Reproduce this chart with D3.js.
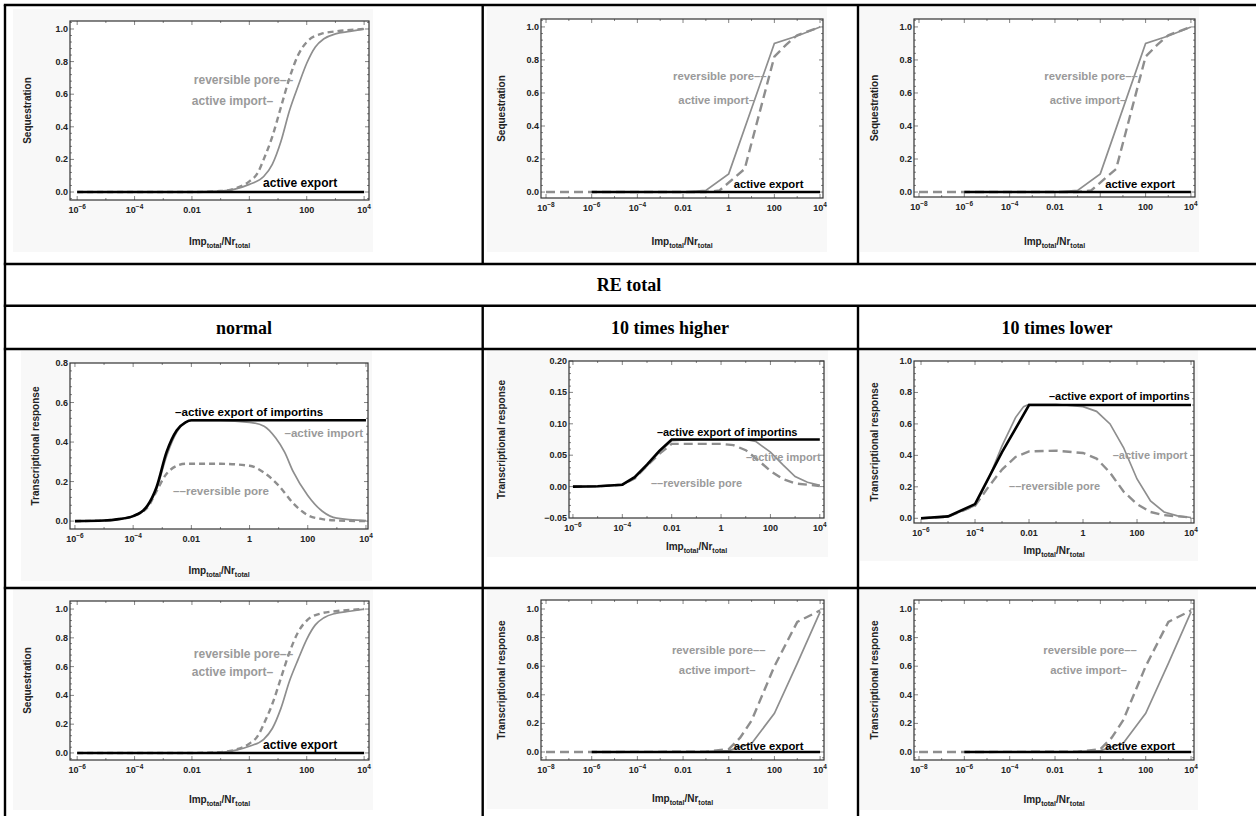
<!DOCTYPE html>
<meta charset="utf-8">
<script src="https://cdnjs.cloudflare.com/ajax/libs/d3/7.8.5/d3.min.js"></script>
<style>
  body { margin: 0; background: #fff; }
  svg text { font-family: "Liberation Sans", Arial, sans-serif; font-weight: bold; }
</style>
<div id="fig"></div>
<script>

// ---------- data : x values are log10(Imp_total/Nr_total) ----------

// sequestration, RE total normal (top-left, bottom-left)
var seqNormalImport = [[-6,0],[-2,0],[-1,0.005],[-0.5,0.018],[0,0.047],[0.5,0.095],[0.8,0.17],[1.1,0.31],[1.4,0.5],[1.7,0.65],[2,0.79],[2.3,0.89],[2.6,0.94],[3,0.97],[3.5,0.985],[4,1.0]];
var seqNormalPore   = [[-6,0],[-2,0],[-1,0.006],[-0.5,0.022],[0,0.065],[0.3,0.12],[0.5,0.2],[0.8,0.34],[1.1,0.52],[1.4,0.7],[1.7,0.84],[2,0.92],[2.5,0.97],[3,0.985],[4,1.0]];
var seqNormalExport = [[-6,0],[4,0]];

// sequestration, 10 times higher / lower (top-middle, top-right)
var seqShiftImport = [[-6,0],[-2,0],[-1,0.01],[0,0.11],[2,0.9],[3,0.945],[4,1.0]];
var seqShiftPore   = [[-8,0],[-6,0],[-1,0],[-0.4,0.01],[0.7,0.14],[2,0.82],[2.5,0.89],[3,0.95],[4,1.0]];
var seqShiftExport = [[-6,0],[4,0]];

// transcriptional response, normal
var trNormalExport = [[-6,0],[-5,0.003],[-4.5,0.01],[-4,0.025],[-3.5,0.08],[-3.2,0.17],[-2.85,0.35],[-2.5,0.46],[-2.2,0.5],[-2,0.51],[4,0.51]];
var trNormalImport = [[-6,0],[-5,0.003],[-4.5,0.01],[-4,0.025],[-3.5,0.075],[-3.2,0.16],[-2.85,0.33],[-2.5,0.45],[-2.2,0.5],[-2,0.508],[-1,0.508],[0,0.5],[0.5,0.48],[0.9,0.42],[1.2,0.35],[1.5,0.25],[2,0.13],[2.5,0.05],[3,0.015],[4,0.003]];
var trNormalPore   = [[-6,0],[-5,0.003],[-4.5,0.01],[-4,0.025],[-3.5,0.07],[-3.2,0.15],[-2.9,0.23],[-2.5,0.28],[-2.2,0.29],[-1,0.29],[0,0.28],[0.5,0.245],[1,0.18],[1.5,0.09],[2,0.03],[2.5,0.01],[3,0.003],[4,0]];

// transcriptional response, 10 times higher
var trHighExport = [[-6,0],[-5,0.0005],[-4,0.003],[-3.5,0.015],[-3,0.035],[-2.5,0.057],[-2,0.075],[4,0.075]];
var trHighImport = [[-6,0],[-5,0.0005],[-4,0.003],[-3.5,0.014],[-3,0.033],[-2.5,0.055],[-2,0.073],[-1,0.075],[1,0.075],[1.4,0.072],[2,0.055],[2.5,0.035],[3,0.016],[3.5,0.007],[4,0.002]];
var trHighPore   = [[-6,0],[-5,0.0005],[-4,0.003],[-3.5,0.013],[-3,0.033],[-2.5,0.052],[-2,0.068],[0,0.068],[0.5,0.066],[1,0.058],[1.5,0.042],[2,0.025],[2.5,0.012],[3,0.005],[4,0.001]];

// transcriptional response, 10 times lower
var trLowExport = [[-6,0],[-5,0.012],[-4,0.09],[-3,0.42],[-2,0.72],[4,0.72]];
var trLowImport = [[-6,0],[-5,0.01],[-4,0.08],[-3.5,0.25],[-3,0.46],[-2.5,0.64],[-2.2,0.71],[-2,0.725],[-1,0.725],[0,0.71],[0.5,0.68],[1,0.6],[1.5,0.45],[2,0.25],[2.5,0.11],[3,0.04],[3.5,0.015],[4,0.005]];
var trLowPore   = [[-6,0],[-5,0.01],[-4,0.08],[-3.5,0.2],[-3,0.31],[-2.5,0.39],[-2,0.425],[-1,0.43],[0,0.415],[0.5,0.38],[1,0.29],[1.5,0.17],[2,0.09],[2.5,0.04],[3,0.02],[4,0.005]];

// transcriptional response, bottom middle / right
var trShiftImport = [[-6,0],[-1,0.002],[0,0.01],[1,0.06],[2,0.27],[3,0.62],[4,0.98]];
var trShiftPore   = [[-8,0],[-6,0],[-1,0.002],[0,0.02],[0.5,0.1],[1,0.22],[2,0.6],[3,0.91],[4,0.99]];
var trShiftExport = [[-6,0],[4,0]];

// ticks
var xTicks6 = [-6,-4,-2,0,2,4];
var xTicks8 = [-8,-6,-4,-2,0,2,4];
var xTickLabels6 = ["10^−6","10^−4","0.01","1","100","10^4"];
var xTickLabels8 = ["10^−8","10^−6","10^−4","0.01","1","100","10^4"];
var yTicksUnit = [0,0.2,0.4,0.6,0.8,1.0];
var yTicksNormal = [0,0.2,0.4,0.6,0.8];
var yTicksHigh = [-0.05,0,0.05,0.1,0.15,0.2];

// table texts
var rowTitle = "RE total";
var colTitles = ["normal", "10 times higher", "10 times lower"];

// curve annotations (text, data x, data y, anchor, black?)
var notesSeqNormal = [["reversible pore––",1.53,0.69,"end",0],["active import–",0.83,0.56,"end",0],["active export",0.48,0.053,"start",1]];
var notesSeqShift  = [["reversible pore––",1.66,0.70,"end",0],["active import–",1.15,0.56,"end",0],["active export",0.22,0.05,"start",1]];
var notesTrNormal  = [["–active export of importins",-2.56,0.553,"start",1],["–active import",1.2,0.446,"start",0],["––reversible pore",-2.63,0.157,"start",0]];
var notesTrHigh    = [["–active export of importins",-2.6,0.0874,"start",1],["–active import",1.01,0.0476,"start",0],["––reversible pore",-2.84,0.006,"start",0]];
var notesTrLow     = [["–active export of importins",-1.26,0.78,"start",1],["–active import",1.1,0.40,"start",0],["––reversible pore",-2.74,0.204,"start",0]];
var notesTrShift   = [["reversible pore––",1.61,0.71,"end",0],["active import–",1.17,0.57,"end",0],["active export",0.22,0.045,"start",1]];

// ---------- layout ----------
var W = 1256, H = 816;
var gray = "#8e8e8e", grayText = "#9a9a9a";

var panels = [
  {frame:[70,21,369,200],   xDom:[-6.25,4.17], yDom:[-0.049,1.049], xT:xTicks6, xL:xTickLabels6, yT:yTicksUnit, yF:".1f", yLab:"Sequestration", yLabX:27,  xLabY:243, s:[seqNormalImport,seqNormalPore,seqNormalExport], notes:notesSeqNormal, smooth:true, dash:"6,4", fs:12},
  {frame:[541,19,823,198],  xDom:[-8.22,4.13], yDom:[-0.036,1.048], xT:xTicks8, xL:xTickLabels8, yT:yTicksUnit, yF:".1f", yLab:"Sequestration", yLabX:501, xLabY:243, s:[seqShiftImport,seqShiftPore,seqShiftExport], notes:notesSeqShift, dash:"9,5", fs:11.3},
  {frame:[914,19,1195,197], xDom:[-8.22,4.18], yDom:[-0.03,1.048],  xT:xTicks8, xL:xTickLabels8, yT:yTicksUnit, yF:".1f", yLab:"Sequestration", yLabX:874, xLabY:243, s:[seqShiftImport,seqShiftPore,seqShiftExport], notes:notesSeqShift, dash:"9,5", fs:11.3},
  {frame:[70,363,368,529],  xDom:[-6.17,4.07], yDom:[-0.04,0.8],    xT:xTicks6, xL:xTickLabels6, yT:yTicksNormal, yF:".1f", yLab:"Transcriptional response", yLabX:35, xLabY:572, s:[trNormalImport,trNormalPore,trNormalExport], notes:notesTrNormal, smooth:true, dash:"6,4", fs:11.6},
  {frame:[569,361,824,518], xDom:[-6.16,4.17], yDom:[-0.05,0.2],    xT:xTicks6, xL:xTickLabels6, yT:yTicksHigh, yF:".2f", yLab:"Transcriptional response", yLabX:501, xLabY:548, s:[trHighImport,trHighPore,trHighExport], notes:notesTrHigh, dash:"9,5", fs:11},
  {frame:[914,361,1194,523],xDom:[-6.26,4.11], yDom:[-0.03,1.0],    xT:xTicks6, xL:xTickLabels6, yT:yTicksUnit, yF:".1f", yLab:"Transcriptional response", yLabX:874, xLabY:552, s:[trLowImport,trLowPore,trLowExport], notes:notesTrLow, dash:"9,5", fs:11},
  {frame:[70,601,369,760],  xDom:[-6.25,4.17], yDom:[-0.049,1.056], xT:xTicks6, xL:xTickLabels6, yT:yTicksUnit, yF:".1f", yLab:"Sequestration", yLabX:27,  xLabY:801, s:[seqNormalImport,seqNormalPore,seqNormalExport], notes:notesSeqNormal, smooth:true, dash:"6,4", fs:12},
  {frame:[541,600,824,760], xDom:[-8.22,4.17], yDom:[-0.056,1.063], xT:xTicks8, xL:xTickLabels8, yT:yTicksUnit, yF:".1f", yLab:"Transcriptional response", yLabX:501, xLabY:800, s:[trShiftImport,trShiftPore,trShiftExport], notes:notesTrShift, dash:"9,5", fs:11.3},
  {frame:[914,600,1194,760],xDom:[-8.22,4.13], yDom:[-0.056,1.063], xT:xTicks8, xL:xTickLabels8, yT:yTicksUnit, yF:".1f", yLab:"Transcriptional response", yLabX:874, xLabY:801, s:[trShiftImport,trShiftPore,trShiftExport], notes:notesTrShift, dash:"9,5", fs:11.3}
];

var svg = d3.select("#fig").append("svg")
    .attr("width", W)
    .attr("height", H);

svg.append("rect").attr("width", W).attr("height", H).attr("fill", "#fff");

// ---------- panels ----------
panels.forEach(function(p) {
  var f = p.frame;
  var g = svg.append("g");
  var x = d3.scaleLog()
      .domain([Math.pow(10, p.xDom[0]), Math.pow(10, p.xDom[1])])
      .range([f[0], f[2]]);
  var y = d3.scaleLinear().domain(p.yDom).range([f[3], f[1]]);
  var px = function(e) { return x(Math.pow(10, e)); };

  // faint picture background
  g.append("rect")
      .attr("x", p.yLabX - 14).attr("y", f[1] - 12)
      .attr("width", f[2] + 4 - (p.yLabX - 14))
      .attr("height", p.xLabY + 9 - (f[1] - 12))
      .attr("fill", "#f8f8f8");
  g.append("rect")
      .attr("x", f[0]).attr("y", f[1])
      .attr("width", f[2] - f[0]).attr("height", f[3] - f[1])
      .attr("fill", "#fff");

  // ticks inside the frame, all four sides
  var xMinor = d3.range(Math.ceil(p.xDom[0]), Math.floor(p.xDom[1]) + 1)
      .filter(function(e) { return p.xT.indexOf(e) < 0; });
  var step = p.yT[1] - p.yT[0];
  var yMinor = [];
  d3.range(p.yT[0] - step, p.yT[p.yT.length - 1] + step, step / 5).forEach(function(v) {
    if (v > p.yDom[0] && v < p.yDom[1]) yMinor.push(v);
  });
  var tk = g.append("g").attr("stroke", "#666").attr("stroke-width", 0.8);
  p.xT.forEach(function(e) {
    tk.append("line").attr("x1", px(e)).attr("x2", px(e)).attr("y1", f[3]).attr("y2", f[3] - 4);
    tk.append("line").attr("x1", px(e)).attr("x2", px(e)).attr("y1", f[1]).attr("y2", f[1] + 4);
  });
  xMinor.forEach(function(e) {
    tk.append("line").attr("x1", px(e)).attr("x2", px(e)).attr("y1", f[3]).attr("y2", f[3] - 2);
    tk.append("line").attr("x1", px(e)).attr("x2", px(e)).attr("y1", f[1]).attr("y2", f[1] + 2);
  });
  yMinor.forEach(function(v) {
    var major = p.yT.some(function(t) { return Math.abs(t - v) < 1e-6; });
    var l = major ? 4 : 2;
    tk.append("line").attr("x1", f[0]).attr("x2", f[0] + l).attr("y1", y(v)).attr("y2", y(v));
    tk.append("line").attr("x1", f[2]).attr("x2", f[2] - l).attr("y1", y(v)).attr("y2", y(v));
  });

  // curves: active import (solid gray), reversible pore (dashed gray), active export (black)
  var line = d3.line()
      .x(function(d) { return px(d[0]); })
      .y(function(d) { return y(d[1]); })
      .curve(p.smooth ? d3.curveMonotoneX : d3.curveLinear);
  g.append("path").datum(p.s[0]).attr("d", line)
      .attr("fill", "none").attr("stroke", gray).attr("stroke-width", 1.7);
  g.append("path").datum(p.s[1]).attr("d", line)
      .attr("fill", "none").attr("stroke", gray).attr("stroke-width", 2.4)
      .attr("stroke-dasharray", p.dash);
  g.append("path").datum(p.s[2]).attr("d", line)
      .attr("fill", "none").attr("stroke", "#000").attr("stroke-width", 2.6);

  // frame
  g.append("rect")
      .attr("x", f[0]).attr("y", f[1])
      .attr("width", f[2] - f[0]).attr("height", f[3] - f[1])
      .attr("fill", "none").attr("stroke", "#333").attr("stroke-width", 1.2);

  // y tick labels
  var fmt = d3.format(p.yF);
  p.yT.forEach(function(v) {
    g.append("text")
        .attr("x", f[0] - 2).attr("y", y(v))
        .attr("text-anchor", "end").attr("dominant-baseline", "central")
        .attr("font-size", 9).attr("fill", "#222")
        .text(fmt(v).replace("-", "−"));
  });

  // x tick labels (10^n with superscript)
  p.xT.forEach(function(e, i) {
    var parts = p.xL[i].split("^");
    var t = g.append("text")
        .attr("x", px(e)).attr("y", f[3] + 13)
        .attr("text-anchor", "middle")
        .attr("font-size", 9).attr("fill", "#222");
    t.append("tspan").text(parts[0]);
    if (parts.length > 1) {
      t.append("tspan").attr("dy", -4).attr("font-size", 6.5).text(parts[1]);
    }
  });

  // axis labels
  g.append("text")
      .attr("transform", "translate(" + p.yLabX + "," + ((f[1] + f[3]) / 2) + ") rotate(-90)")
      .attr("text-anchor", "middle").attr("dominant-baseline", "central")
      .attr("font-size", 10).attr("fill", "#222")
      .text(p.yLab);
  var xl = g.append("text")
      .attr("x", (f[0] + f[2]) / 2).attr("y", p.xLabY + 2)
      .attr("text-anchor", "middle")
      .attr("font-size", 10).attr("fill", "#222");
  xl.append("tspan").text("Imp");
  xl.append("tspan").attr("dy", 3).attr("font-size", 7).text("total");
  xl.append("tspan").attr("dy", -3).text("/Nr");
  xl.append("tspan").attr("dy", 3).attr("font-size", 7).text("total");

  // curve annotations
  p.notes.forEach(function(n) {
    g.append("text")
        .attr("x", px(n[1])).attr("y", y(n[2]))
        .attr("text-anchor", n[3]).attr("dominant-baseline", "central")
        .attr("font-size", p.fs)
        .attr("fill", n[4] ? "#000" : grayText)
        .text(n[0]);
  });
});

// ---------- table grid ----------
var lw = 2.4;
var grid = svg.append("g").attr("stroke", "#000").attr("stroke-width", lw);
[5, 264, 305.7, 349, 588].forEach(function(yy) {
  grid.append("line").attr("x1", 5 - lw / 2).attr("x2", W).attr("y1", yy).attr("y2", yy);
});
grid.append("line").attr("x1", 5).attr("x2", 5).attr("y1", 5).attr("y2", H);
[482.7, 858].forEach(function(xx) {
  grid.append("line").attr("x1", xx).attr("x2", xx).attr("y1", 5).attr("y2", 264);
  grid.append("line").attr("x1", xx).attr("x2", xx).attr("y1", 305.7).attr("y2", H);
});

svg.append("text")
    .attr("x", 629).attr("y", 285)
    .attr("text-anchor", "middle").attr("dominant-baseline", "central")
    .style("font-family", "'Liberation Serif', 'Times New Roman', serif")
    .attr("font-size", 18)
    .text(rowTitle);

var colCenters = [244, 670, 1057];
colTitles.forEach(function(t, i) {
  svg.append("text")
      .attr("x", colCenters[i]).attr("y", 328)
      .attr("text-anchor", "middle").attr("dominant-baseline", "central")
      .style("font-family", "'Liberation Serif', 'Times New Roman', serif")
      .attr("font-size", 18)
      .text(t);
});

</script>
